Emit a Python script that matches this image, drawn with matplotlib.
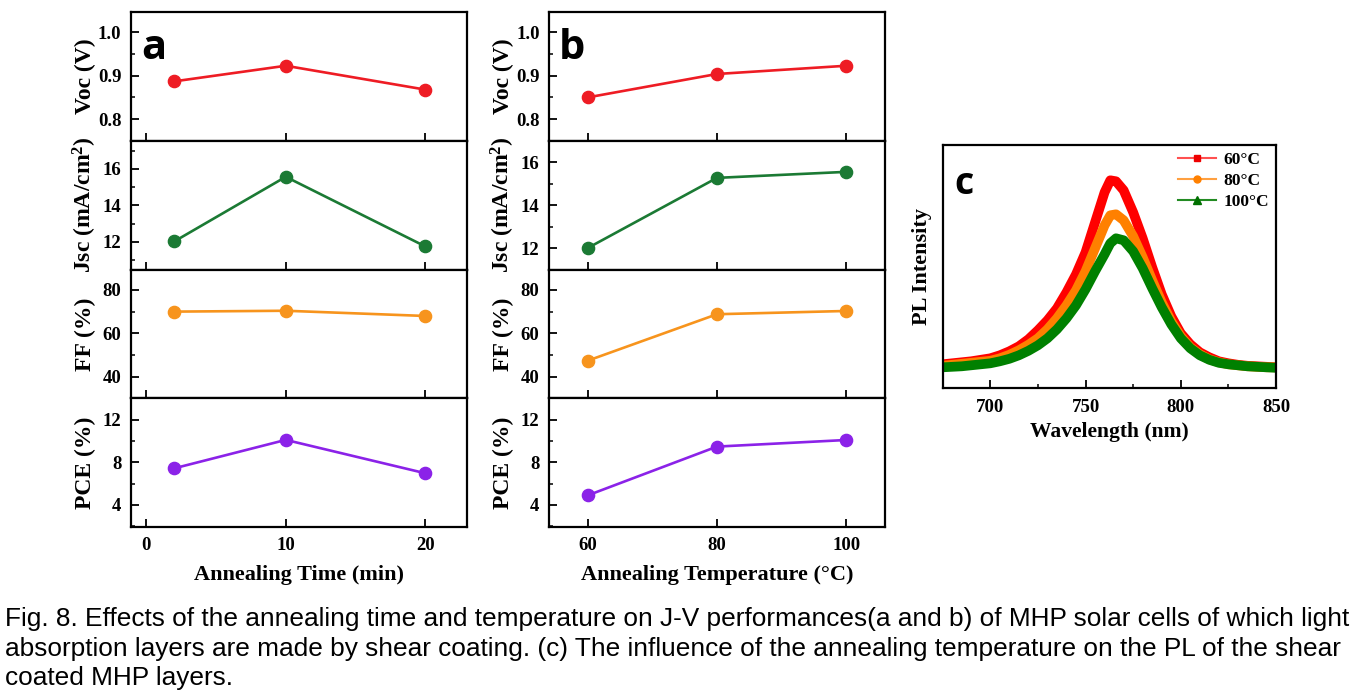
import matplotlib
matplotlib.use("Agg")
import matplotlib.pyplot as plt
from matplotlib.ticker import MultipleLocator
from matplotlib.lines import Line2D

plt.rcParams['font.family'] = ['Liberation Serif', 'DejaVu Serif']
plt.rcParams['font.weight'] = 'bold'
plt.rcParams['mathtext.fontset'] = 'custom'
plt.rcParams['mathtext.rm'] = 'Liberation Serif:bold'
plt.rcParams['mathtext.it'] = 'Liberation Serif:bold'
plt.rcParams['mathtext.bf'] = 'Liberation Serif:bold'

# ---------------- data ----------------
time_min = [2, 10, 20]
voc_time = [0.887, 0.923, 0.868]
jsc_time = [12.02, 15.57, 11.75]
ff_time = [70.0, 70.4, 68.0]
pce_time = [7.44, 10.11, 6.98]

temp_c = [60, 80, 100]
voc_temp = [0.850, 0.904, 0.923]
jsc_temp = [12.0, 15.27, 15.55]
ff_temp = [47.4, 68.8, 70.3]
pce_temp = [4.9, 9.48, 10.1]

wavelength = [675, 680, 685, 690, 695, 700, 705, 710, 715, 720, 725, 730, 735,
              740, 745, 750, 755, 760, 763, 766, 770, 775, 780, 785, 790, 795,
              800, 805, 810, 815, 820, 825, 830, 835, 840, 845, 850]
pl_60 = [24, 25, 26, 27, 28.5, 30, 33, 37, 42, 49, 58, 68, 80, 96, 114, 136,
         166, 196, 208, 207, 198, 176, 150, 121, 94, 72, 55, 44, 36, 31, 27,
         25, 23.5, 22.5, 22, 21.5, 21]
pl_80 = [22.5, 23.5, 24.5, 25.5, 26.5, 27.5, 30, 33.5, 38, 43.5, 50, 59, 70,
         83, 98, 117, 140, 163, 173, 174, 168, 152, 131, 108, 86, 67, 52, 41,
         34, 29, 26, 24, 23, 22, 21.5, 21, 21]
pl_100 = [21, 21.5, 22, 23, 24, 25, 27, 29.5, 33, 37.5, 43, 50, 59, 70, 83, 99,
          117, 134, 145, 150, 148, 137, 120, 100, 81, 64, 50, 40, 33, 28.5,
          25.5, 24, 23, 22, 21.5, 21, 20.5]
pl_labels = ['60\u00b0C', '80\u00b0C', '100\u00b0C']

caption = ["Fig. 8. Effects of the annealing time and temperature on J-V performances(a and b) of MHP solar cells of which light",
           "absorption layers are made by shear coating. (c) The influence of the annealing temperature on the PL of the shear",
           "coated MHP layers."]

# ---------------- style ----------------
RED = '#ee1c24'
GREEN = '#1b7a34'
ORANGE = '#f7941d'
PURPLE = '#8b22e8'

W, H = 1366, 696
fig = plt.figure(figsize=(W / 100, H / 100), dpi=100)


def rect(x0, y0, x1, y1):
    return [x0 / W, 1 - y1 / H, (x1 - x0) / W, (y1 - y0) / H]


def style(ax, labelbottom):
    for s in ax.spines.values():
        s.set_linewidth(1.6)
    ax.tick_params(axis='both', which='major', direction='in', length=5.5,
                   width=1.3, labelsize=13.5, top=False, right=False,
                   labelbottom=labelbottom, pad=7)
    ax.tick_params(axis='both', which='minor', direction='in', length=3,
                   width=1.1, top=False, right=False)
    for lab in ax.get_xticklabels() + ax.get_yticklabels():
        lab.set_fontweight('bold')


ylabels = ['Voc (V)', r'Jsc (mA/cm$^{2}$)', 'FF (%)', 'PCE (%)']
colors = [RED, GREEN, ORANGE, PURPLE]
minors = [0.05, 1, 10, 2]
ylims_a = [(0.75, 1.047), (10.48, 17.55), (30.1, 89.4), (1.93, 14.02)]
ylims_b = [(0.75, 1.047), (11.0, 17.0), (30.1, 89.4), (1.93, 14.02)]
ticks_list = [[0.8, 0.9, 1.0], [12, 14, 16], [40, 60, 80], [4, 8, 12]]

panels = [
    dict(x0=131, x1=467, x=time_min, ys=[voc_time, jsc_time, ff_time, pce_time],
         xlim=(-1.1, 23.0), xticks=[0, 10, 20], ylims=ylims_a,
         xlabel='Annealing Time (min)', tag='a', ylx=85),
    dict(x0=549.3, x1=885, x=temp_c, ys=[voc_temp, jsc_temp, ff_temp, pce_temp],
         xlim=(54.06, 106.0), xticks=[60, 80, 100], ylims=ylims_b,
         xlabel='Annealing Temperature (\u00b0C)', tag='b', ylx=503),
]

top, bottom = 12, 527
hh = (bottom - top) / 4
for p in panels:
    for i in range(4):
        y0 = top + i * hh
        ax = fig.add_axes(rect(p['x0'], y0, p['x1'], y0 + hh))
        ax.plot(p['x'], p['ys'][i], '-o', color=colors[i], lw=1.9,
                ms=8.8, mec=colors[i], mfc=colors[i])
        ax.set_xlim(*p['xlim'])
        ax.set_ylim(*p['ylims'][i])
        ax.set_xticks(p['xticks'])
        ax.set_yticks(ticks_list[i])
        ax.yaxis.set_minor_locator(MultipleLocator(minors[i]))
        if i == 0:
            ax.yaxis.set_major_formatter(matplotlib.ticker.FormatStrFormatter('%.1f'))
        style(ax, labelbottom=(i == 3))
        ax.set_ylabel(ylabels[i], fontsize=17, fontweight='bold')
        ax.yaxis.set_label_coords(-(p['x0'] - p['ylx']) / (p['x1'] - p['x0']), 0.5)
        ax.yaxis.label.set_va('center')
        if i == 0:
            ax.text(0.068, 0.72, p['tag'], transform=ax.transAxes,
                    fontsize=30, fontweight='bold', family='Open Sans',
                    ha='center', va='center')
        if i == 3:
            ax.set_xlabel(p['xlabel'], fontsize=16, fontweight='bold')
            ax.xaxis.set_label_coords(0.5, -(575 - 527) / hh)
            ax.xaxis.label.set_va('center')

# ---------------- panel c ----------------
axc = fig.add_axes(rect(942.7, 145, 1276, 388.3))
axc.plot(wavelength, pl_60, color='#ff0000', lw=7, solid_capstyle='butt')
axc.plot(wavelength, pl_80, color='#ff8000', lw=7, solid_capstyle='butt')
axc.plot(wavelength, pl_100, color='#008000', lw=7, solid_capstyle='butt')
axc.set_xlim(675, 850)
axc.set_ylim(0, 243.3)
axc.set_xticks([700, 750, 800, 850])
axc.xaxis.set_minor_locator(MultipleLocator(25))
axc.set_yticks([])
style(axc, labelbottom=True)
axc.tick_params(axis='x', pad=8)
axc.set_ylabel('PL Intensity', fontsize=16, fontweight='bold')
axc.yaxis.set_label_coords(-(942.7 - 922) / 333.3, 0.5)
axc.yaxis.label.set_va('center')
axc.set_xlabel('Wavelength (nm)', fontsize=15.5, fontweight='bold')
axc.xaxis.set_label_coords(0.5, -(432 - 388.3) / 243.3)
axc.xaxis.label.set_va('center')
axc.text(0.065, 0.84, 'c', transform=axc.transAxes, fontsize=27,
         fontweight='bold', family='Open Sans', ha='center', va='center')
handles = [Line2D([], [], color='#ff5050', marker='s', mfc='#ee0000', mec='#ee0000', ms=5, lw=1.5),
           Line2D([], [], color='#ffa040', marker='o', mfc='#ff8000', mec='#ff8000', ms=5, lw=1.5),
           Line2D([], [], color='#228b22', marker='^', mfc='#007000', mec='#007000', ms=6, lw=1.5)]
axc.legend(handles, pl_labels, loc='upper right', frameon=False,
           prop={'family': 'Liberation Serif', 'weight': 'bold', 'size': 12.5},
           handlelength=2.2, handletextpad=0.4, labelspacing=0.3,
           borderaxespad=0.4, bbox_to_anchor=(1.02, 1.03))

# ---------------- caption ----------------
baselines = [626, 656, 685]
for line, yb in zip(caption, baselines):
    fig.text(5 / W, 1 - yb / H, line, family='Liberation Sans', fontweight='normal',
             fontsize=18.9, ha='left', va='baseline')

fig.savefig('out.png', dpi=100)
